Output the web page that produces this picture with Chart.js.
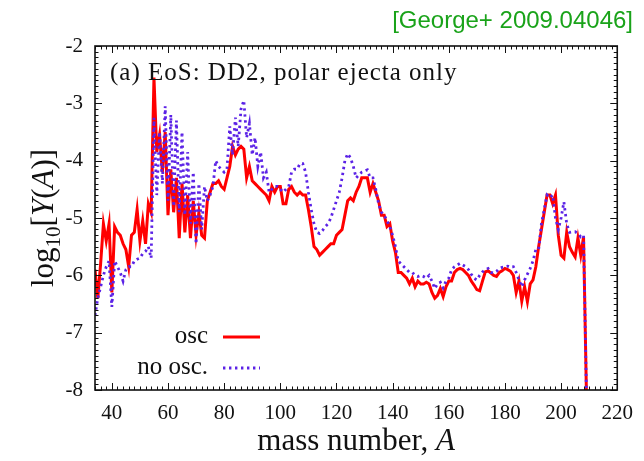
<!DOCTYPE html>
<html>
<head>
<meta charset="utf-8">
<script src="https://cdn.jsdelivr.net/npm/chart.js@4.4.1/dist/chart.umd.min.js"></script>
<style>
  html, body { margin: 0; padding: 0; background: #fff; }
</style>
</head>
<body>
<canvas id="yieldChart" width="644" height="461"></canvas>
<script>
// mass numbers A = 34 ... 209
const massNumbers = [];
for (let a = 34; a <= 209; a++) massNumbers.push(a);

// log10 Y(A), with neutrino oscillations
const oscYields = [
  -5.9, -6.4, -5.8, -5.1, -5.4, -5.1, -6.3, -5.15, -5.25, -5.3,
  -5.45, -5.55, -5.85, -5.3, -5.25, -4.85, -5.4, -5.05, -5.45, -4.75,
  -4.9, -2.55, -3.85, -3.55, -4.2, -3.5, -4.95, -4.15, -4.9, -4.3,
  -5.35, -4.4, -5.25, -4.6, -5.35, -4.7, -5.3, -4.9, -5.3, -5.35,
  -4.7, -4.55, -4.4, -4.4, -4.35, -4.45, -4.5, -4.3, -4.1, -3.75,
  -3.9, -3.8, -3.75, -3.8, -4.3, -4.1, -4.35, -4.4, -4.45, -4.5,
  -4.55, -4.6, -4.7, -4.45, -4.55, -4.45, -4.45, -4.75, -4.75, -4.5,
  -4.45, -4.55, -4.6, -4.55, -4.6, -4.6, -4.85, -5.15, -5.5, -5.55,
  -5.65, -5.6, -5.55, -5.5, -5.45, -5.45, -5.3, -5.25, -5.2, -4.95,
  -4.7, -4.65, -4.7, -4.55, -4.45, -4.3, -4.3, -4.3, -4.55, -4.4,
  -4.55, -4.7, -4.95, -4.95, -5.15, -5.1, -5.4, -5.6, -5.95, -5.95,
  -6.0, -6.05, -6.15, -6.05, -6.2, -6.1, -6.15, -6.15, -6.12, -6.15,
  -6.3, -6.4, -6.35, -6.23, -6.37, -6.2, -6.1, -6.1, -5.95, -5.9,
  -5.88, -5.9, -5.95, -6.0, -6.1, -6.17, -6.25, -6.27, -6.1, -5.94,
  -5.92, -5.96, -6.0, -6.02, -5.95, -5.92, -5.88, -5.9, -5.93, -6.0,
  -6.3, -6.1, -6.45, -6.2, -6.46, -6.15, -6.08, -5.85, -5.5, -5.2,
  -4.9, -4.6, -4.6, -4.75, -4.6, -5.3, -5.65, -5.7, -5.25, -5.5,
  -5.6, -5.68, -5.35, -5.65, -5.33, -8
];

// log10 Y(A), without oscillations
const noOscYields = [
  -6.7, -6.4, -6.2, -6.0, -5.85, -5.75, -6.55, -5.75, -5.85, -5.95,
  -6.1, -5.9, -5.85, -5.85, -5.75, -5.72, -5.7, -5.62, -5.58, -5.5,
  -5.7, -3.25, -4.6, -3.5, -4.4, -3.05, -4.7, -3.2, -4.8, -3.3,
  -4.9, -3.5, -4.95, -3.85, -5.1, -4.2, -5.45, -4.4, -5.2, -4.45,
  -4.7, -4.6, -4.45, -4.0, -4.1, -4.15, -4.2, -4.15, -3.4, -3.9,
  -3.25, -3.75, -3.1, -2.95, -3.6, -3.35, -3.9, -3.6, -4.1, -3.85,
  -4.3, -4.2, -4.55, -4.5, -4.45, -4.45, -4.5, -4.55, -4.5, -4.45,
  -4.2, -4.15, -4.15, -4.05, -4.05, -4.2, -4.55, -4.85, -5.1, -5.25,
  -5.27, -5.22, -5.15, -5.1, -5.0, -4.85, -4.7, -4.55, -4.3, -4.0,
  -3.88, -3.95, -4.1, -4.3, -4.25, -4.2, -4.18, -4.16, -4.3, -4.3,
  -4.5, -4.75, -4.9, -4.95, -5.05, -5.15, -5.3, -5.5, -5.75, -5.8,
  -5.85, -5.9, -5.95, -5.95, -6.0, -6.02, -6.0, -6.02, -6.05, -6.0,
  -6.1, -6.23, -6.15, -6.12, -6.22, -6.1, -6.05, -5.9, -5.85, -5.82,
  -5.79, -5.82, -5.85, -5.9, -5.98, -6.05, -6.08, -6.0, -5.94, -5.9,
  -5.88, -5.95, -5.96, -5.93, -5.88, -5.86, -5.85, -5.84, -5.86, -5.85,
  -5.95, -6.08, -6.2, -6.08, -5.98, -5.88, -5.75, -5.55, -5.55, -5.1,
  -4.85, -4.6, -4.65, -4.6, -5.0, -5.2, -5.0, -4.72, -5.1, -5.25,
  -5.24, -5.24, -5.27, -5.33, -5.3, -8
];

const xTickValues = [40, 60, 80, 100, 120, 140, 160, 180, 200, 220];
const yTickValues = [-2, -3, -4, -5, -6, -7, -8];

const SERIF = '"Liberation Serif", "Times New Roman", serif';

// gnuplot-style box: inward ticks on all four sides
const frameTicks = {
  id: 'frameTicks',
  afterDatasetsDraw(chart) {
    const { ctx, chartArea: a, scales: { x, y } } = chart;
    ctx.save();
    ctx.strokeStyle = '#111';
    ctx.lineWidth = 1;
    ctx.beginPath();
    for (let v = 34; v <= 220; v += 2) {
      const px = Math.round(x.getPixelForValue(v)) + 0.5;
      const len = v % 20 === 0 ? 7 : 3.5;
      ctx.moveTo(px, a.bottom); ctx.lineTo(px, a.bottom - len);
      ctx.moveTo(px, a.top); ctx.lineTo(px, a.top + len);
    }
    for (let i = -80; i <= -20; i++) {
      const py = Math.round(y.getPixelForValue(i / 10)) + 0.5;
      const len = i % 10 === 0 ? 7 : 3.5;
      ctx.moveTo(a.left, py); ctx.lineTo(a.left + len, py);
      ctx.moveTo(a.right, py); ctx.lineTo(a.right - len, py);
    }
    ctx.stroke();
    ctx.lineWidth = 1.6;
    ctx.strokeRect(a.left, a.top, a.right - a.left, a.bottom - a.top);
    ctx.restore();
  }
};

// titles, key and the reference note
const annotations = {
  id: 'annotations',
  afterDraw(chart) {
    const { ctx, chartArea: a } = chart;
    ctx.save();
    ctx.fillStyle = '#111';
    ctx.textBaseline = 'alphabetic';

    // panel title
    ctx.font = '25px ' + SERIF;
    ctx.letterSpacing = '1px';
    ctx.textAlign = 'left';
    ctx.fillText('(a) EoS: DD2, polar ejecta only', a.left + 15, a.top + 34);
    ctx.letterSpacing = '0px';

    // key: osc first, then no osc.
    const keyRows = [
      { ds: chart.data.datasets[0], y: a.top + 291 },
      { ds: chart.data.datasets[1], y: a.top + 322 }
    ];
    keyRows.forEach(r => {
      ctx.font = '25px ' + SERIF;
      ctx.textAlign = 'right';
      ctx.fillStyle = '#111';
      ctx.fillText(r.ds.label, a.left + 113, r.y + 6);
      ctx.beginPath();
      ctx.strokeStyle = r.ds.borderColor;
      ctx.lineWidth = r.ds.borderWidth;
      ctx.setLineDash(r.ds.borderDash || []);
      ctx.moveTo(a.left + 128, r.y);
      ctx.lineTo(a.left + 165, r.y);
      ctx.stroke();
      ctx.setLineDash([]);
    });

    // x axis title
    ctx.fillStyle = '#111';
    ctx.textAlign = 'left';
    const xt1 = 'mass number, ';
    ctx.font = '31px ' + SERIF;
    const w1 = ctx.measureText(xt1).width;
    ctx.font = 'italic 31px ' + SERIF;
    const w2 = ctx.measureText('A').width;
    const xStart = (a.left + a.right) / 2 - (w1 + w2) / 2;
    ctx.font = '31px ' + SERIF;
    ctx.fillText(xt1, xStart, 450);
    ctx.font = 'italic 31px ' + SERIF;
    ctx.fillText('A', xStart + w1, 450);

    // y axis title, rotated
    const parts = [
      { t: 'log', f: '31px ' + SERIF, dy: 0 },
      { t: '10', f: '21px ' + SERIF, dy: 7 },
      { t: '[', f: '31px ' + SERIF, dy: 0 },
      { t: 'Y', f: 'italic 31px ' + SERIF, dy: 0 },
      { t: '(', f: '31px ' + SERIF, dy: 0 },
      { t: 'A', f: 'italic 31px ' + SERIF, dy: 0 },
      { t: ')]', f: '31px ' + SERIF, dy: 0 }
    ];
    let total = 0;
    parts.forEach(p => { ctx.font = p.f; p.w = ctx.measureText(p.t).width; total += p.w; });
    ctx.translate(53, (a.top + a.bottom) / 2);
    ctx.rotate(-Math.PI / 2);
    let cx = -total / 2;
    parts.forEach(p => {
      ctx.font = p.f;
      ctx.fillText(p.t, cx, p.dy);
      cx += p.w;
    });
    ctx.setTransform(1, 0, 0, 1, 0, 0);

    // source note
    ctx.font = '24px "Liberation Sans", Arial, sans-serif';
    ctx.fillStyle = '#1aa31a';
    ctx.textAlign = 'right';
    ctx.fillText('[George+ 2009.04046]', 633, 28);
    ctx.restore();
  }
};

new Chart(document.getElementById('yieldChart'), {
  type: 'line',
  data: {
    datasets: [
      {
        label: 'osc',
        data: massNumbers.map((a, i) => ({ x: a, y: oscYields[i] })),
        borderColor: '#ff0000',
        borderWidth: 3,
        pointRadius: 0,
        tension: 0,
        order: 1
      },
      {
        label: 'no osc.',
        data: massNumbers.map((a, i) => ({ x: a, y: noOscYields[i] })),
        borderColor: '#5b22e6',
        borderWidth: 2.8,
        borderDash: [2.4, 3.6],
        pointRadius: 0,
        tension: 0,
        order: 0
      }
    ]
  },
  options: {
    responsive: false,
    animation: false,
    layout: { padding: { top: 46, right: 26, left: 0, bottom: 0 } },
    plugins: { legend: { display: false }, tooltip: { enabled: false } },
    scales: {
      x: {
        type: 'linear',
        min: 34,
        max: 220,
        grid: { display: false, drawTicks: false, tickLength: 0 },
        border: { display: false },
        ticks: { font: { family: SERIF, size: 21 }, color: '#111', padding: 11, maxRotation: 0 },
        afterBuildTicks: s => { s.ticks = xTickValues.map(v => ({ value: v })); },
        afterFit: s => { s.height = 71; }
      },
      y: {
        type: 'linear',
        min: -8,
        max: -2,
        grid: { display: false, drawTicks: false, tickLength: 0 },
        border: { display: false },
        ticks: { font: { family: SERIF, size: 21 }, color: '#111', padding: 12 },
        afterBuildTicks: s => { s.ticks = yTickValues.map(v => ({ value: v })); },
        afterFit: s => { s.width = 95; }
      }
    }
  },
  plugins: [frameTicks, annotations]
});
</script>
</body>
</html>
